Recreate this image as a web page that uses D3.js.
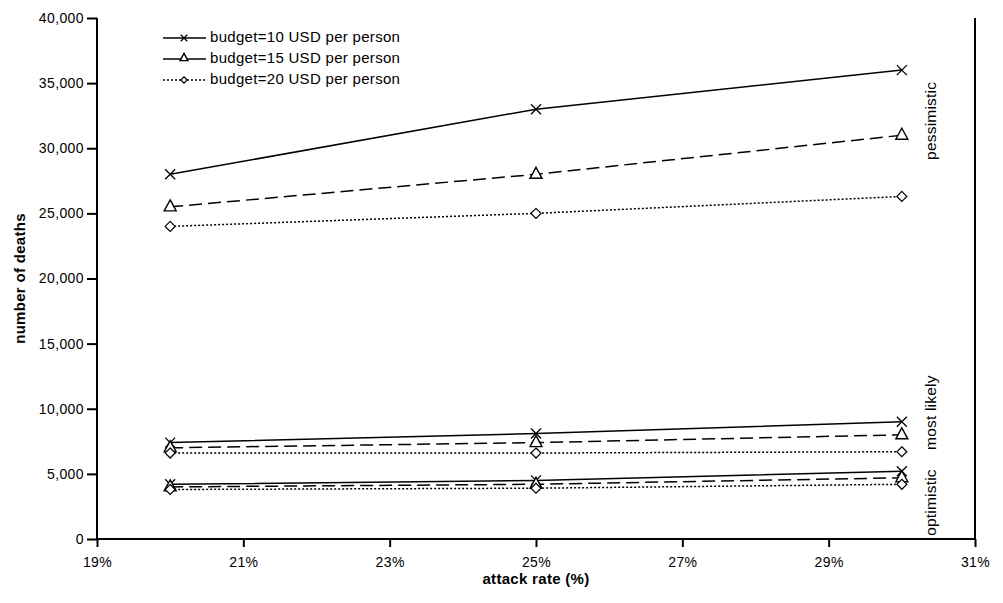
<!DOCTYPE html>
<html>
<head>
<meta charset="utf-8">
<script src="https://cdn.jsdelivr.net/npm/d3@7/dist/d3.min.js"></script>
<style>
  html, body { margin: 0; padding: 0; background: #fff; }
  svg { display: block; font-family: "Liberation Sans", Arial, sans-serif; }
</style>
</head>
<body>
<svg id="chart" width="1003" height="603"></svg>
<script>
// Attack rates (x) and deaths per scenario and budget level
const attackRates = [20, 25, 30];
const budgets = ["budget=10 USD per person", "budget=15 USD per person", "budget=20 USD per person"];

const pessimistic10 = [28000, 33000, 36000];
const pessimistic15 = [25500, 28000, 31000];
const pessimistic20 = [24000, 25000, 26300];

const mostLikely10 = [7400, 8100, 9000];
const mostLikely15 = [7000, 7400, 8000];
const mostLikely20 = [6600, 6600, 6700];

const optimistic10 = [4200, 4500, 5200];
const optimistic15 = [4000, 4200, 4700];
const optimistic20 = [3800, 3900, 4200];

const xTicks = [19, 21, 23, 25, 27, 29, 31];
const yTicks = [0, 5000, 10000, 15000, 20000, 25000, 30000, 35000, 40000];

const scenarioLabels = [
  { text: "pessimistic", value: 32100 },
  { text: "most likely", value: 9700 },
  { text: "optimistic", value: 2800 }
];

const series = [
  { budget: 0, values: pessimistic10 }, { budget: 1, values: pessimistic15 }, { budget: 2, values: pessimistic20 },
  { budget: 0, values: mostLikely10 }, { budget: 1, values: mostLikely15 }, { budget: 2, values: mostLikely20 },
  { budget: 0, values: optimistic10 }, { budget: 1, values: optimistic15 }, { budget: 2, values: optimistic20 }
];

const dashes = ["none", "13,6", "2,2"];
const markerKinds = ["cross", "triangle", "diamond"];

const svg = d3.select("#chart");
const margin = { left: 97, right: 28, top: 18, bottom: 64 };
const W = 1003, H = 603;

const x = d3.scaleLinear().domain([19, 31]).range([margin.left, W - margin.right]);
const y = d3.scaleLinear().domain([0, 40000]).range([H - margin.bottom, margin.top]);

const fmt = d3.format(",");

// y axis
const yAxis = svg.append("g")
  .attr("transform", `translate(${margin.left},0)`)
  .call(d3.axisLeft(y).tickValues(yTicks).tickFormat(fmt).tickSize(10).tickPadding(3));
// x axis
const xAxis = svg.append("g")
  .attr("transform", `translate(0,${y(0)})`)
  .call(d3.axisBottom(x).tickValues(xTicks).tickFormat(d => d + "%").tickSize(8).tickPadding(10));

[yAxis, xAxis].forEach(g => {
  g.select(".domain").attr("stroke", "#000").attr("stroke-width", 2);
  g.selectAll(".tick line").attr("stroke", "#000").attr("stroke-width", 2);
  g.selectAll(".tick text").attr("fill", "#000")
    .style("font-size", "14px").style("letter-spacing", "0.4px");
});
yAxis.select(".domain").attr("d", `M0,${y(40000)}V${y(0)}`);
xAxis.select(".domain").attr("d", `M${x(19)},0H${x(31)}`);

// right frame line
svg.append("line")
  .attr("x1", x(31)).attr("x2", x(31))
  .attr("y1", y(40000)).attr("y2", y(0))
  .attr("stroke", "#000").attr("stroke-width", 2);

// axis titles
svg.append("text")
  .attr("x", (x(19) + x(31)) / 2).attr("y", 584)
  .attr("text-anchor", "middle")
  .style("font-size", "15px").style("font-weight", "bold").style("letter-spacing", "0.3px")
  .text("attack rate (%)");

svg.append("text")
  .attr("transform", `translate(25,${(y(0) + y(40000)) / 2}) rotate(-90)`)
  .attr("text-anchor", "middle")
  .style("font-size", "15px").style("font-weight", "bold").style("letter-spacing", "0.3px")
  .text("number of deaths");

// marker drawing
function drawMarker(g, kind, cx, cy, s = 1) {
  if (kind === "cross") {
    const r = 5 * s;
    g.append("path")
      .attr("d", `M${cx - r},${cy - r}L${cx + r},${cy + r}M${cx - r},${cy + r}L${cx + r},${cy - r}`)
      .attr("stroke", "#000").attr("stroke-width", 1.3).attr("fill", "none");
  } else if (kind === "triangle") {
    g.append("path")
      .attr("d", `M${cx},${cy - 7 * s}L${cx + 6 * s},${cy + 4 * s}L${cx - 6 * s},${cy + 4 * s}Z`)
      .attr("stroke", "#000").attr("stroke-width", 1.4).attr("fill", "#fff");
  } else {
    const r = 5 * s;
    g.append("path")
      .attr("d", `M${cx},${cy - r}L${cx + r},${cy}L${cx},${cy + r}L${cx - r},${cy}Z`)
      .attr("stroke", "#000").attr("stroke-width", 1.2).attr("fill", "#fff");
  }
}

const line = d3.line().x((d, i) => x(attackRates[i])).y(d => y(d));

const plot = svg.append("g");
series.forEach(s => {
  plot.append("path")
    .datum(s.values)
    .attr("d", line)
    .attr("fill", "none")
    .attr("stroke", "#000")
    .attr("stroke-width", 1.5)
    .attr("stroke-dasharray", dashes[s.budget]);
});
series.forEach(s => {
  s.values.forEach((v, i) => drawMarker(plot, markerKinds[s.budget], x(attackRates[i]), y(v)));
});

// scenario labels (vertical)
scenarioLabels.forEach(l => {
  svg.append("text")
    .attr("transform", `translate(932,${y(l.value)}) rotate(-90)`)
    .attr("text-anchor", "middle")
    .attr("dominant-baseline", "middle")
    .style("font-size", "15.5px").style("letter-spacing", "0.2px")
    .text(l.text);
});

// legend
const legend = svg.append("g");
budgets.forEach((b, i) => {
  const ly = 38 + i * 21;
  legend.append("line")
    .attr("x1", 163).attr("x2", 206).attr("y1", ly).attr("y2", ly)
    .attr("stroke", "#000").attr("stroke-width", 1.5)
    .attr("stroke-dasharray", i === 2 ? "2,2" : "none");
  drawMarker(legend, markerKinds[i], 184, i === 1 ? ly - 1 : ly, 0.65);
  legend.append("text")
    .attr("x", 210).attr("y", ly)
    .attr("dominant-baseline", "middle")
    .style("font-size", "15px").style("letter-spacing", "0.3px")
    .text(b);
});
</script>
</body>
</html>
